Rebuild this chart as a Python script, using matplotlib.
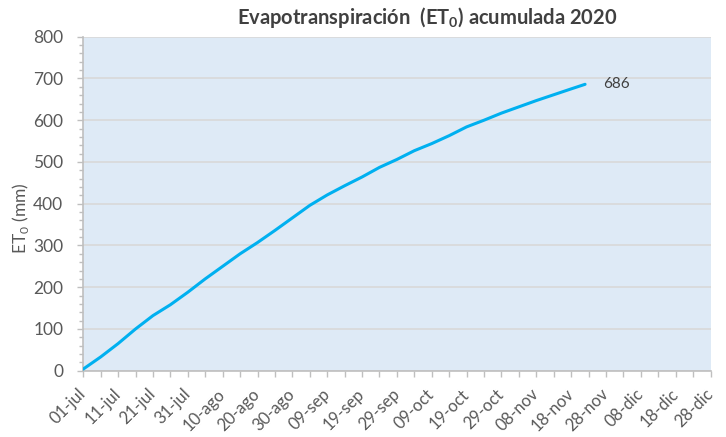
import matplotlib
matplotlib.use("Agg")
import matplotlib.pyplot as plt
from matplotlib.ticker import MultipleLocator, FixedLocator
from matplotlib.transforms import ScaledTranslation

# days since 01-jul and accumulated ET0 (mm)
days = [0, 5, 10, 15, 20, 25, 30, 35, 40, 45, 50, 55, 60, 65, 70,
        75, 80, 85, 90, 95, 100, 105, 110, 115, 120, 125, 130, 135, 140, 144]
et0 = [4, 33, 65, 100, 132, 158, 188, 220, 250, 280, 307, 336, 366, 396, 421,
       443, 464, 487, 506, 527, 544, 563, 584, 600, 617, 632, 647, 661, 675, 686]

tick_days = list(range(0, 181, 10))
tick_labels = ['01-jul', '11-jul', '21-jul', '31-jul', '10-ago', '20-ago', '30-ago',
               '09-sep', '19-sep', '29-sep', '09-oct', '19-oct', '29-oct',
               '08-nov', '18-nov', '28-nov', '08-dic', '18-dic', '28-dic']

plt.rcParams['font.family'] = ['Lato', 'DejaVu Sans']
plt.rcParams['mathtext.fontset'] = 'custom'
plt.rcParams['mathtext.rm'] = 'Lato'
plt.rcParams['mathtext.bf'] = 'Lato:bold'

txt = '#595959'
axis_col = '#BFBFBF'

fig = plt.figure(figsize=(7.26, 4.37), dpi=100)
ax = fig.add_axes([0.1147, 0.1517, 0.8640, 0.7643])
ax.set_facecolor('#DEEAF6')

ax.plot(days, et0, color='#00B0F0', lw=2.2, solid_capstyle='round', zorder=3)
ax.annotate(str(et0[-1]), xy=(days[-1], et0[-1]), xytext=(13, 0),
            textcoords='offset points', va='center', ha='left',
            fontsize=11, color='#404040')

ax.set_xlim(0, 180)
ax.set_ylim(0, 800)
ax.yaxis.set_major_locator(MultipleLocator(100))
ax.yaxis.set_minor_locator(MultipleLocator(20))
ax.xaxis.set_major_locator(FixedLocator(tick_days))
ax.xaxis.set_minor_locator(MultipleLocator(5))
ax.set_xticklabels(tick_labels, rotation=45, ha='right', va='center',
                   rotation_mode='anchor')
shift = ScaledTranslation(3 / 100, 0, fig.dpi_scale_trans)
for lab in ax.get_xticklabels():
    lab.set_transform(lab.get_transform() + shift)

ax.grid(axis='y', which='major', color='#D9D9D9', lw=1.2, zorder=1)
ax.set_axisbelow(True)
for s in ['top', 'right']:
    ax.spines[s].set_visible(False)
for s in ['left', 'bottom']:
    ax.spines[s].set_color(axis_col)
    ax.spines[s].set_linewidth(1.2)

ax.tick_params(axis='both', which='both', color=axis_col, width=1.0, labelcolor=txt)
ax.tick_params(axis='y', which='major', length=4.5, labelsize=12.5, pad=10)
ax.tick_params(axis='y', which='minor', length=3)
ax.tick_params(axis='x', which='both', length=4, labelsize=12, pad=11)

fig.text(0.028, 1 - 218 / 437, 'ET$_0$ (mm)', rotation=90, ha='center', va='center',
         fontsize=12.5, color=txt)
fig.text(427 / 726, 1 - 17 / 437, r'Evapotranspiración  (ET$_\mathbf{0}$) acumulada 2020',
         ha='center', va='center', fontsize=14.5, fontweight='bold', color='#404040')

fig.savefig('out.png', dpi=100)
